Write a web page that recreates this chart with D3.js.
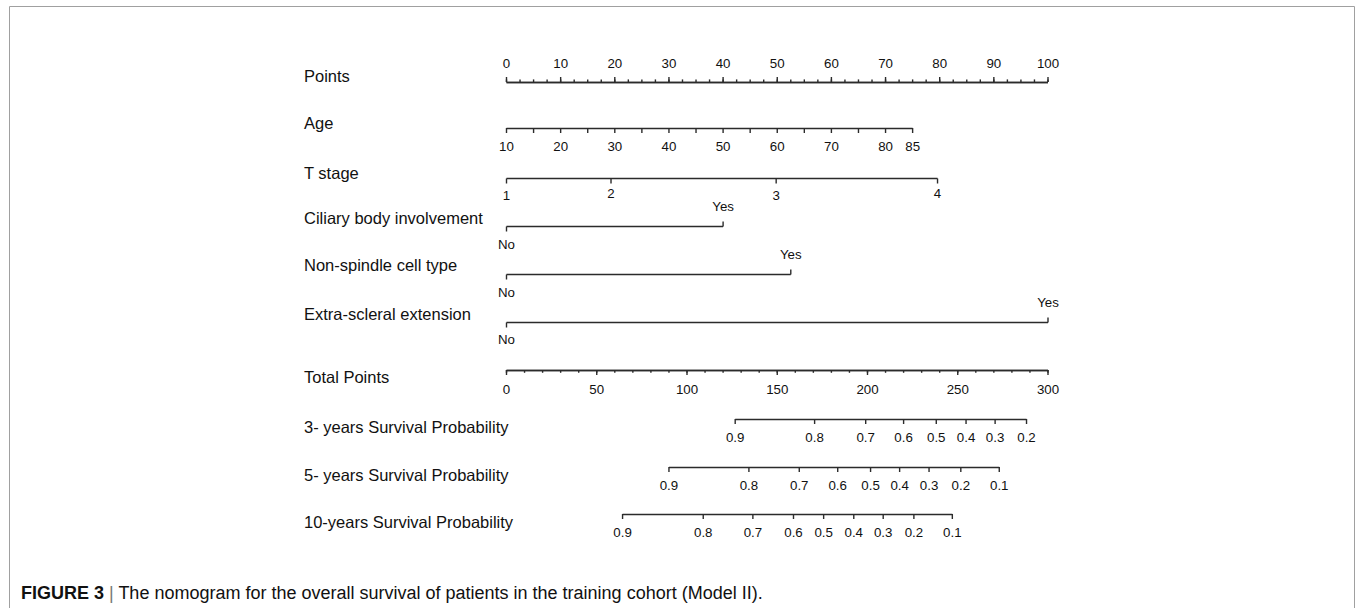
<!DOCTYPE html>
<html>
<head>
<meta charset="utf-8">
<script src="https://cdn.jsdelivr.net/npm/d3@7"></script>
<style>
  html, body { margin: 0; padding: 0; background: #fff; }
  svg { display: block; }
  text { font-family: "Liberation Sans", Arial, Helvetica, sans-serif; fill: #111; }
</style>
</head>
<body>
<svg id="chart" width="1357" height="608"></svg>
<script>
// ---------------- DATA ----------------
const rowLabels = [
  "Points",
  "Age",
  "T stage",
  "Ciliary body involvement",
  "Non-spindle cell type",
  "Extra-scleral extension",
  "Total Points",
  "3- years Survival Probability",
  "5- years Survival Probability",
  "10-years Survival Probability"
];

const pointsDomain = [0, 100];
const pointsMajorTicks = [0, 10, 20, 30, 40, 50, 60, 70, 80, 90, 100];
const pointsMinorStep = 2.5;

const ageValues = [10, 85];
const agePoints = [0, 75];
const ageTickValues = [10, 15, 20, 25, 30, 35, 40, 45, 50, 55, 60, 65, 70, 75, 80, 85];
const ageTickLabels = [10, 20, 30, 40, 50, 60, 70, 80, 85];

const tStageLevels = ["1", "2", "3", "4"];
const tStagePoints = [0, 19.3, 49.8, 79.6];

const ciliaryLevels = ["No", "Yes"];
const ciliaryPoints = [0, 40];

const nonSpindleLevels = ["No", "Yes"];
const nonSpindlePoints = [0, 52.5];

const extraScleralLevels = ["No", "Yes"];
const extraScleralPoints = [0, 100];

const totalDomain = [0, 300];
const totalMajorTicks = [0, 50, 100, 150, 200, 250, 300];
const totalMinorStep = 10;

const surv3Probs = [0.9, 0.8, 0.7, 0.6, 0.5, 0.4, 0.3, 0.2];
const surv3Points = [126.7, 170.7, 199, 220, 238.1, 254.6, 270.7, 288.1];

const surv5Probs = [0.9, 0.8, 0.7, 0.6, 0.5, 0.4, 0.3, 0.2, 0.1];
const surv5Points = [90, 134.3, 162.2, 183.5, 201.7, 217.8, 234.1, 251.7, 273];

const surv10Probs = [0.9, 0.8, 0.7, 0.6, 0.5, 0.4, 0.3, 0.2, 0.1];
const surv10Points = [64.3, 109, 136.5, 159, 175.7, 192.4, 208.7, 225.7, 247];

const captionBold = "FIGURE 3";
const captionText = " The nomogram for the overall survival of patients in the training cohort (Model II).";

// ---------------- LAYOUT / STYLE ----------------
const rowLineY = [82, 128, 178, 226, 274, 322, 370, 419, 467, 514];
const rowLabelBaselineShift = [0, 0.5, 1, -2, -3, -2, 13.3, 14.3, 14, 14];
const labelX = 304;
const axisLeft = 506, axisRight = 1047.5;
const labelFont = 16.5, tickFont = 13.3;
const lineColor = "#2b2b2b", lineWidth = 1.4;
const capHalf = 0.716 * tickFont / 2;

const svg = d3.select("#chart");

// frame
const frame = svg.append("g").attr("stroke", "#a0a0a0").attr("stroke-width", 1).attr("fill", "none");
frame.append("path").attr("d", d3.line()([[9.5, 608], [9.5, 6.5], [1354.5, 6.5], [1354.5, 608]]));

// scales
const xPoints = d3.scaleLinear().domain(pointsDomain).range([axisLeft, axisRight]);
const xTotal = d3.scaleLinear().domain(totalDomain).range([axisLeft, axisRight]);

// row labels
svg.append("g").selectAll("text").data(rowLabels).join("text")
  .attr("x", labelX)
  .attr("y", (d, i) => rowLineY[i] + rowLabelBaselineShift[i])
  .attr("font-size", labelFont)
  .text(d => d);

function styleAxis(g, labelCenter) {
  g.attr("font-family", null).attr("font-size", null);
  g.selectAll("path.domain").attr("stroke", lineColor).attr("stroke-width", lineWidth);
  g.selectAll(".tick line").attr("stroke", lineColor).attr("stroke-width", lineWidth);
  g.selectAll(".tick text")
    .attr("fill", "#111")
    .attr("font-size", tickFont)
    .attr("dy", null)
    .attr("y", labelCenter + capHalf);
}

// ---- Points axis (top ticks) ----
{
  const y = rowLineY[0];
  const minor = svg.append("g").attr("transform", `translate(0,${y})`)
    .call(d3.axisTop(xPoints).tickValues(d3.range(pointsDomain[0], pointsDomain[1] + 0.001, pointsMinorStep))
      .tickSize(2.6).tickSizeOuter(0).tickFormat(""));
  styleAxis(minor, 0);
  const major = svg.append("g").attr("transform", `translate(0,${y})`)
    .call(d3.axisTop(xPoints).tickValues(pointsMajorTicks).tickSize(5).tickSizeOuter(0).tickFormat(d3.format("d")));
  styleAxis(major, -18.7);
}

// ---- Age axis (bottom ticks) ----
{
  const y = rowLineY[1];
  const ageToPoints = d3.scaleLinear().domain(ageValues).range(agePoints);
  const xAge = d3.scaleLinear().domain(ageValues).range(ageValues.map(v => xPoints(ageToPoints(v))));
  const g = svg.append("g").attr("transform", `translate(0,${y})`)
    .call(d3.axisBottom(xAge).tickValues(ageTickValues).tickSize(5).tickSizeOuter(0)
      .tickFormat(d => ageTickLabels.includes(d) ? String(d) : ""));
  styleAxis(g, 18);
}

// ---- categorical rows ----
function drawCategorical(rowIdx, levels, pts, tickDir, labelCenters) {
  const y = rowLineY[rowIdx];
  const xs = d3.scaleOrdinal().domain(levels).range(pts.map(p => xPoints(p) + 0.5));
  const g = svg.append("g").attr("transform", `translate(0,${y})`);
  g.append("line")
    .attr("x1", d3.min(levels, l => xs(l))).attr("x2", d3.max(levels, l => xs(l)))
    .attr("y1", 0.5).attr("y2", 0.5)
    .attr("stroke", lineColor).attr("stroke-width", lineWidth);
  const t = g.selectAll("g.tick").data(levels).join("g").attr("class", "tick")
    .attr("transform", d => `translate(${xs(d)},0)`);
  t.append("line")
    .attr("y1", 0.5).attr("y2", (d, i) => 0.5 + 5 * tickDir[i])
    .attr("stroke", lineColor).attr("stroke-width", lineWidth);
  t.append("text")
    .attr("text-anchor", "middle")
    .attr("font-size", tickFont)
    .attr("y", (d, i) => labelCenters[i] + capHalf)
    .text(d => d);
}

drawCategorical(2, tStageLevels, tStagePoints, [1, 1, 1, 1], [17.7, 15, 17.7, 15.5]);
drawCategorical(3, ciliaryLevels, ciliaryPoints, [1, -1], [18, -19.5]);
drawCategorical(4, nonSpindleLevels, nonSpindlePoints, [1, -1], [18, -20]);
drawCategorical(5, extraScleralLevels, extraScleralPoints, [1, -1], [17.5, -20]);

// ---- Total points axis (bottom ticks) ----
{
  const y = rowLineY[6];
  const minor = svg.append("g").attr("transform", `translate(0,${y})`)
    .call(d3.axisBottom(xTotal).tickValues(d3.range(totalDomain[0], totalDomain[1] + 0.001, totalMinorStep))
      .tickSize(2.8).tickSizeOuter(0).tickFormat(""));
  styleAxis(minor, 0);
  const major = svg.append("g").attr("transform", `translate(0,${y})`)
    .call(d3.axisBottom(xTotal).tickValues(totalMajorTicks).tickSize(5).tickSizeOuter(0).tickFormat(d3.format("d")));
  styleAxis(major, 19);
}

// ---- survival probability axes ----
function drawSurvival(rowIdx, probs, pts) {
  const y = rowLineY[rowIdx];
  const xs = d3.scaleLinear().domain(probs).range(pts.map(p => xTotal(p)));
  const g = svg.append("g").attr("transform", `translate(0,${y})`)
    .call(d3.axisBottom(xs).tickValues(probs).tickSize(5).tickSizeOuter(0).tickFormat(d3.format(".1f")));
  styleAxis(g, 18);
}
drawSurvival(7, surv3Probs, surv3Points);
drawSurvival(8, surv5Probs, surv5Points);
drawSurvival(9, surv10Probs, surv10Points);

// ---- caption ----
const cap = svg.append("text").attr("x", 21).attr("y", 599).attr("font-size", 18);
cap.append("tspan").attr("font-weight", "bold").text(captionBold);
cap.append("tspan").attr("fill", "#777").text(" |");
cap.append("tspan").text(captionText);
</script>
</body>
</html>
